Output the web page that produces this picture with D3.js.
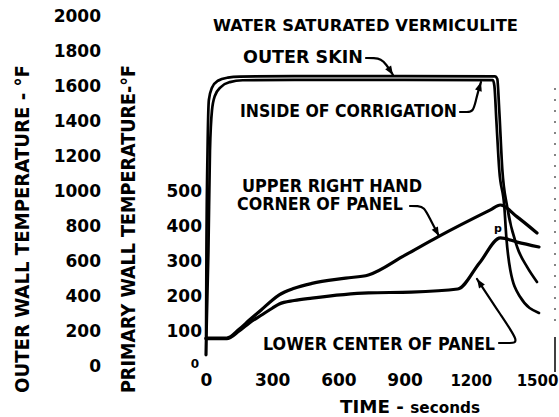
<!DOCTYPE html>
<html>
<head>
<meta charset="utf-8">
<script src="https://cdn.jsdelivr.net/npm/d3@7/dist/d3.min.js"></script>
<style>
  html, body { margin: 0; padding: 0; background: #fff; }
  svg { display: block; }
  text { font-family: "DejaVu Sans", "Liberation Sans", sans-serif; font-weight: bold; fill: #000; }
</style>
</head>
<body>
<svg id="chart" width="559" height="417"></svg>
<script>
// Tick values for the three scales
const timeTicks = [0, 300, 600, 900, 1200, 1500];
const outerTicks = [0, 200, 400, 600, 800, 1000, 1200, 1400, 1600, 1800, 2000];
const primaryTicks = [0, 100, 200, 300, 400, 500];

// Outer wall temperatures, [time s, °F] (read on the outer wall scale)
const outerSkin = [
  [0, 63], [2, 660], [7, 1230], [13, 1520], [27, 1590], [54, 1630], [99, 1648],
  [153, 1654], [400, 1657], [900, 1657], [1310, 1655], [1320, 1640], [1329, 1460],
  [1343, 1120], [1365, 909], [1410, 680], [1455, 566], [1500, 480]
];
const insideCorrugation = [
  [0, 63], [11, 660], [18, 1230], [27, 1460], [40, 1543], [67, 1594], [108, 1622],
  [166, 1633], [400, 1635], [900, 1635], [1300, 1634], [1307, 1600], [1316, 1400],
  [1329, 1120], [1352, 909], [1361, 737], [1379, 549], [1424, 394], [1509, 303]
];

// Primary wall temperatures, [time s, °F] (read on the primary wall scale)
const upperRightCorner = [
  [0, 80], [94, 80], [150, 105], [198, 132], [250, 160], [300, 188], [332, 203],
  [400, 222], [480, 236], [633, 251], [736, 260], [900, 316], [1051, 369],
  [1289, 446], [1334, 460], [1410, 426], [1500, 380]
];
const lowerCenter = [
  [0, 78], [94, 78], [150, 100], [198, 124], [250, 145], [300, 165], [332, 177],
  [400, 187], [480, 194], [736, 209], [930, 211], [1141, 220], [1240, 295],
  [1334, 366], [1410, 354], [1509, 340]
];

const svg = d3.select("#chart");
svg.append("rect").attr("width", 559).attr("height", 417).attr("fill", "#fff");

// Scales: one time axis, two temperature axes sharing the same pixel band
const x = d3.scaleLinear().domain([0, 1500]).range([206, 537]);
const yOuter = d3.scaleLinear().domain([0, 2000]).range([366, 16]);
const yPrimary = d3.scaleLinear().domain([0, 1000]).range([366, 16]);

function styleTicks(g, size) {
  g.select(".domain").remove();
  g.selectAll("text").attr("font-size", size).attr("font-family", null).style("font-weight", "bold");
}

// Outer wall axis labels
const outerAxis = svg.append("g")
  .attr("transform", "translate(101,0)")
  .call(d3.axisLeft(yOuter).tickValues(outerTicks).tickSize(0).tickPadding(0).tickFormat(d3.format("d")));
styleTicks(outerAxis, 17);

// Primary wall axis labels
const primaryAxis = svg.append("g")
  .attr("transform", "translate(202,0)")
  .call(d3.axisLeft(yPrimary).tickValues(primaryTicks).tickSize(0).tickPadding(0).tickFormat(d3.format("d")));
styleTicks(primaryAxis, 17);
primaryAxis.selectAll(".tick").filter(d => d === 0).select("text")
  .attr("font-size", 12).attr("x", -3).attr("dy", "0.1em");

// Time axis labels
const timeAxis = svg.append("g")
  .attr("transform", "translate(0,374)")
  .call(d3.axisBottom(x).tickValues(timeTicks).tickSize(0).tickPadding(0).tickFormat(d3.format("d")));
styleTicks(timeAxis, 17);
timeAxis.selectAll(".tick").filter(d => d >= 1000).select("text")
  .attr("font-size", 15).attr("dy", "0.8em");

// Axis titles
svg.append("text")
  .attr("transform", "translate(22,393) rotate(-90)")
  .attr("dominant-baseline", "central")
  .attr("font-size", 20)
  .attr("textLength", 328).attr("lengthAdjust", "spacingAndGlyphs")
  .text("OUTER WALL TEMPERATURE - °F");
svg.append("text")
  .attr("transform", "translate(128,393) rotate(-90)")
  .attr("dominant-baseline", "central")
  .attr("font-size", 20)
  .attr("textLength", 328).attr("lengthAdjust", "spacingAndGlyphs")
  .text("PRIMARY WALL TEMPERATURE-°F");

const timeTitle = svg.append("text").attr("x", 340).attr("y", 413)
  .attr("textLength", 140).attr("lengthAdjust", "spacingAndGlyphs");
timeTitle.append("tspan").attr("font-size", 18).text("TIME - ");
timeTitle.append("tspan").attr("font-size", 15).text("seconds");

// Title
svg.append("text").attr("x", 213).attr("y", 31).attr("font-size", 16.5)
  .attr("textLength", 305).attr("lengthAdjust", "spacingAndGlyphs")
  .text("WATER SATURATED VERMICULITE");

// Curves
const outerLine = d3.line().x(d => x(d[0])).y(d => yOuter(d[1])).curve(d3.curveMonotoneX);
const primaryLine = d3.line().x(d => x(d[0])).y(d => yPrimary(d[1])).curve(d3.curveMonotoneX);

const curves = svg.append("g").attr("fill", "none").attr("stroke", "#000")
  .attr("stroke-linejoin", "round").attr("stroke-linecap", "round");
curves.append("path").attr("d", primaryLine(upperRightCorner)).attr("stroke-width", 3.2);
curves.append("path").attr("d", primaryLine(lowerCenter)).attr("stroke-width", 3.2);
curves.append("path").attr("d", outerLine(insideCorrugation)).attr("stroke-width", 2.7);
curves.append("path").attr("d", outerLine(outerSkin)).attr("stroke-width", 2.7);

// Curve labels with leader arrows
function label(txt, xPos, yPos, len) {
  svg.append("text").attr("x", xPos).attr("y", yPos).attr("font-size", 17)
    .attr("textLength", len).attr("lengthAdjust", "spacingAndGlyphs").text(txt);
}
function leader(points) {
  svg.append("path")
    .attr("d", d3.line().curve(d3.curveBasis)(points))
    .attr("fill", "none").attr("stroke", "#000").attr("stroke-width", 2.2)
    .attr("stroke-linecap", "round");
  const [x1, y1] = points[points.length - 2];
  const [x2, y2] = points[points.length - 1];
  const a = Math.atan2(y2 - y1, x2 - x1);
  const L = 9, W = 3.5;
  const bx = x2 - L * Math.cos(a), by = y2 - L * Math.sin(a);
  const px = -Math.sin(a) * W, py = Math.cos(a) * W;
  svg.append("path")
    .attr("d", `M${x2},${y2}L${bx + px},${by + py}L${bx - px},${by - py}Z`)
    .attr("fill", "#000");
}

label("OUTER SKIN", 243, 63, 120);
leader([[366, 58], [374, 58], [381, 59], [386, 64], [393, 75]]);

label("INSIDE OF CORRIGATION", 240, 117, 217);
leader([[460, 112], [467, 112], [473, 112], [476, 100], [478, 92], [481, 82]]);

label("UPPER RIGHT HAND", 242, 192, 180);
label("CORNER OF PANEL", 237, 210, 166);
leader([[410, 206], [418, 206], [424, 207], [430, 219], [439, 236]]);

label("LOWER CENTER OF PANEL", 263, 350, 232);
leader([[499, 343], [510, 343], [520, 343], [500, 314], [477, 279]]);

// Small hand mark near the peaks
svg.append("text").attr("x", 494).attr("y", 232).attr("font-size", 11)
  .attr("font-weight", "normal").text("p");

// Sheet edge marks on the right margin
svg.append("line").attr("x1", 555).attr("x2", 555).attr("y1", 88).attr("y2", 330)
  .attr("stroke", "#333").attr("stroke-width", 1.2).attr("stroke-dasharray", "2,9");
svg.append("line").attr("x1", 555).attr("x2", 555).attr("y1", 337).attr("y2", 372)
  .attr("stroke", "#000").attr("stroke-width", 1.5);
</script>
</body>
</html>
